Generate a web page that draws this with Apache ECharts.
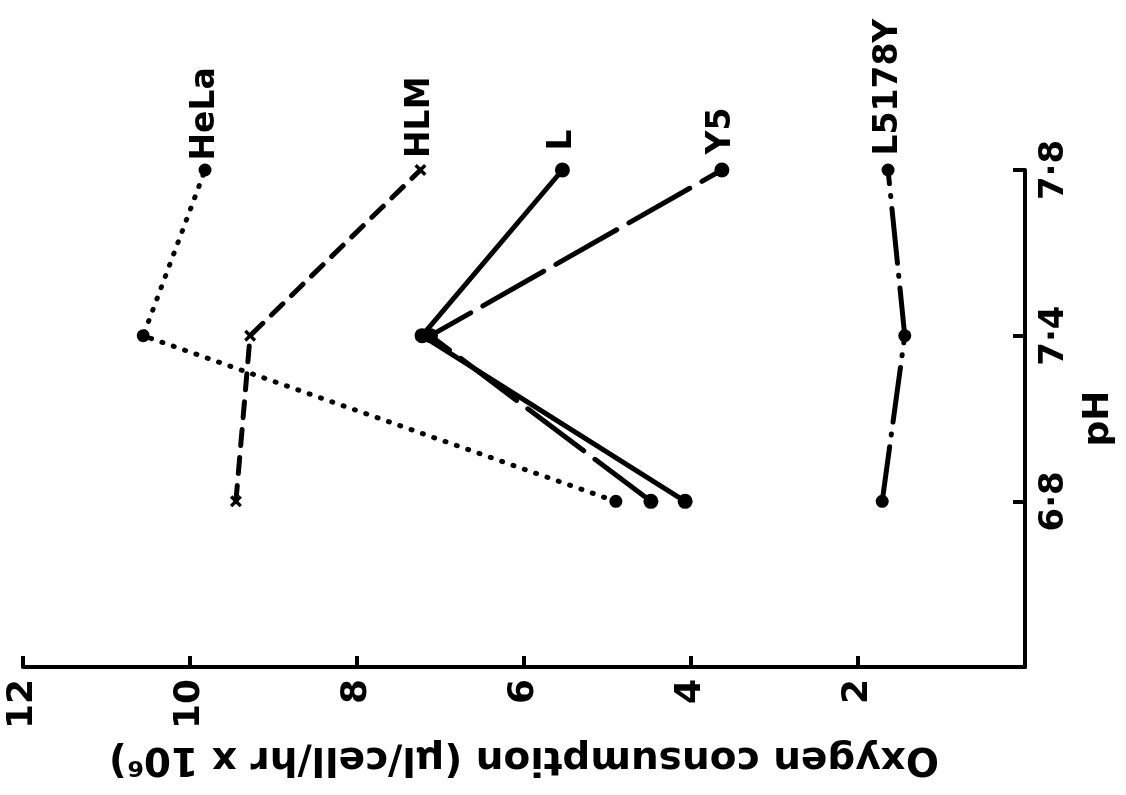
<!DOCTYPE html>
<html>
<head>
<meta charset="utf-8">
<script src="https://cdn.jsdelivr.net/npm/echarts@6/dist/echarts.min.js"></script>
<style>
html,body{margin:0;padding:0;background:#fff;}
#chart{width:1126px;height:795px;}
</style>
</head>
<body>
<div id="chart"></div>
<script>
// pH categories (first entry is the blank axis corner)
const phCategories = ['', '6·8', '7·4', '7·8'];
const phPoints = ['6·8', '7·4', '7·8'];
// Oxygen consumption (µl/cell/hr x 10^6) at pH 6.8, 7.4, 7.8
const helaValues = [4.90, 10.56, 9.82];
const hlmValues = [9.45, 9.28, 7.24];
const lValues = [4.07, 7.22, 5.54];
const y5Values = [4.48, 7.12, 3.63];
const l5178yValues = [1.71, 1.44, 1.64];
const seriesNames = ['HeLa', 'HLM', 'L', 'Y5', 'L5178Y'];
const oxygenMin = 0, oxygenMax = 12, oxygenStep = 2;

const FONT = 'DejaVu Sans';
const crossPath = 'path://M2,0 L5,3 L8,0 L10,2 L7,5 L10,8 L8,10 L5,7 L2,10 L0,8 L3,5 L0,2 Z';

function build(name, values, lineType, symbol, symbolSize, dist) {
  return {
    name: name,
    type: 'line',
    data: values.map((v, i) => ({
      value: [v, phPoints[i]],
      label: i === values.length - 1 ? {
        show: true, position: 'top', distance: dist, rotate: 90,
        align: 'left', verticalAlign: 'middle',
        formatter: name, color: '#000', fontSize: 33, fontWeight: 'bold', fontFamily: FONT
      } : { show: false }
    })),
    symbol: symbol,
    symbolSize: symbolSize,
    itemStyle: { color: '#000' },
    lineStyle: { color: '#000', width: 5, type: lineType, cap: 'round' },
    z: 3
  };
}

const chart = echarts.init(document.getElementById('chart'), null, { renderer: 'canvas' });
chart.setOption({
  backgroundColor: '#fff',
  animation: false,
  grid: { left: 23, right: 101, top: 170, bottom: 128 },
  xAxis: {
    type: 'value', inverse: true,
    min: oxygenMin, max: oxygenMax, interval: oxygenStep,
    name: 'Oxygen consumption (μl/cell/hr x 10⁶)',
    nameLocation: 'middle', nameRotate: 180, nameGap: 72,
    nameTextStyle: { color: '#000', fontSize: 39, fontWeight: 'bold', fontFamily: FONT },
    axisLine: { show: true, lineStyle: { color: '#000', width: 4 } },
    axisTick: { show: true, inside: true, length: 11, lineStyle: { color: '#000', width: 4 } },
    axisLabel: {
      rotate: 90, margin: 12, color: '#000', fontSize: 36, fontWeight: 'bold', fontFamily: FONT,
      formatter: v => (v === 0 ? '' : String(v))
    },
    splitLine: { show: false }
  },
  yAxis: {
    type: 'category', position: 'right', boundaryGap: false,
    data: phCategories,
    name: 'pH', nameLocation: 'middle', nameRotate: 90, nameGap: 56,
    nameTextStyle: { color: '#000', fontSize: 36, fontWeight: 'bold', fontFamily: FONT },
    axisLine: { show: true, lineStyle: { color: '#000', width: 4 } },
    axisTick: { show: true, inside: true, length: 12, interval: (i) => i > 0, lineStyle: { color: '#000', width: 4 } },
    axisLabel: { rotate: 90, margin: 12, color: '#000', fontSize: 34, fontWeight: 'bold', fontFamily: FONT, interval: 0 },
    splitLine: { show: false }
  },
  series: [
    build(seriesNames[0], helaValues, [1, 11], 'circle', 13, 3),
    build(seriesNames[1], hlmValues, [16, 12], crossPath, 12, 6),
    build(seriesNames[2], lValues, 'solid', 'circle', 15, 12),
    build(seriesNames[3], y5Values, [70, 14], 'circle', 15, 8),
    build(seriesNames[4], l5178yValues, [55, 12, 1, 12], 'circle', 13, 8)
  ]
});
</script>
</body>
</html>
